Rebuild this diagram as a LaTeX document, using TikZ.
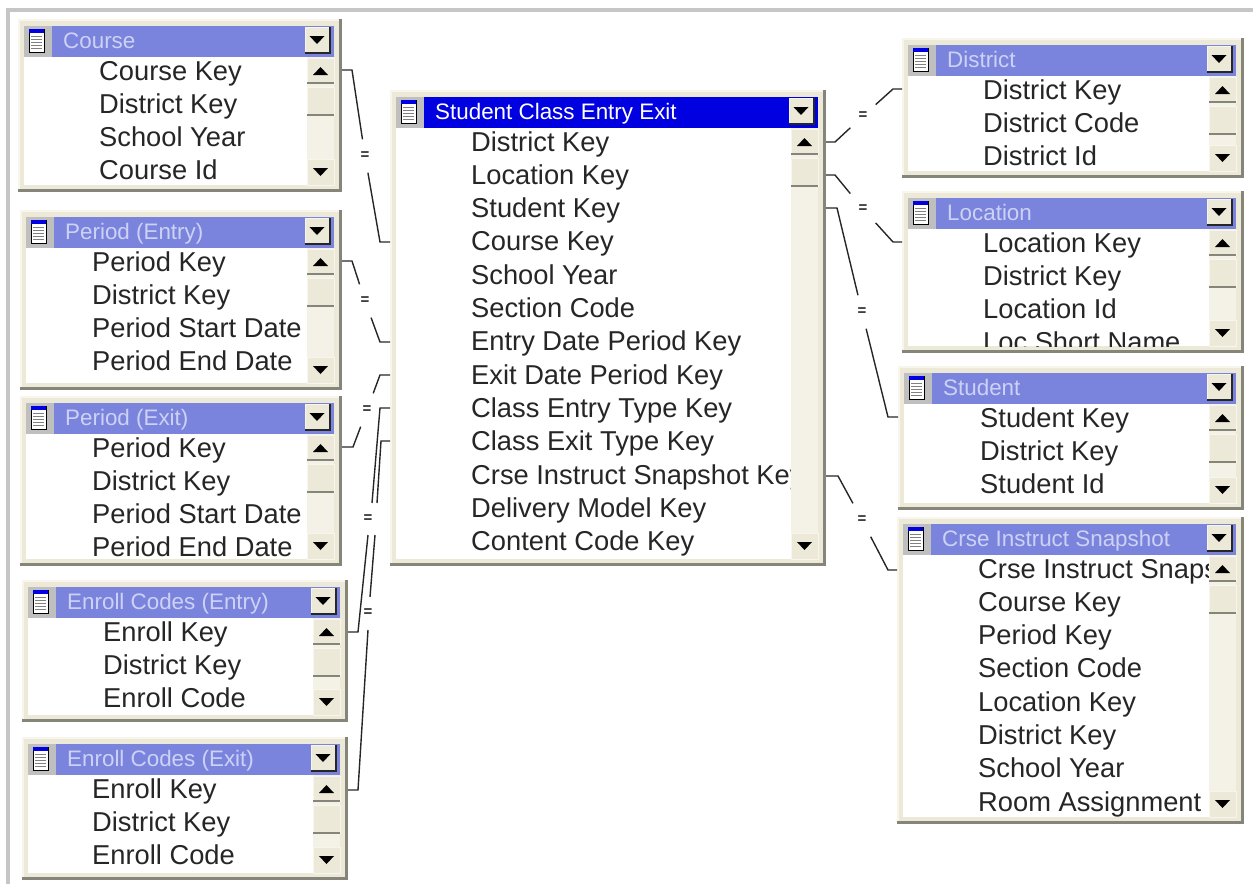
\documentclass[tikz,border=0pt]{standalone}
\usepackage{fontspec}
\setmainfont{Liberation Sans}
\usetikzlibrary{calc,positioning}
\definecolor{erFace}{HTML}{ECE9D8}
\definecolor{erLight}{HTML}{F8F6EC}
\definecolor{erDark}{HTML}{85857A}
\definecolor{erGrip}{HTML}{F4F2E6}
\definecolor{erTitle}{HTML}{7B84DC}
\definecolor{erTitleText}{HTML}{CDD2F5}
\definecolor{erActive}{HTML}{0000E0}
\definecolor{erInk}{HTML}{262626}
\tikzset{
  winframe/.style={fill=erFace, anchor=north west, inner sep=0pt},
  rowtext/.style={anchor=base west, inner sep=0pt, text=erInk, font=\fontsize{27.3}{30}\selectfont},
  titletext/.style={anchor=base west, inner sep=0pt, font=\fontsize{22.4}{26}\selectfont},
  eqlabel/.style={inner sep=0pt, minimum width=25pt, minimum height=33pt, font=\bfseries\fontsize{15}{15}\selectfont, text=erInk},
  link/.style={draw=erInk, line width=1.4pt},
  btn/.style={fill=erFace, draw=erLight, line width=0.8pt},
  btnedge/.style={draw=erDark, line width=1.4pt}
}
% one table window: name, x0, y0, x1, y1, title colour, row x, title ink, title
\newcommand{\erwin}[9]{%
  \pgfmathsetmacro{\tb}{#3+38}
  \pgfmathsetmacro{\sx}{#4-35}
  \pgfmathsetmacro{\sr}{#4-8}
  \pgfmathsetmacro{\bb}{#5-7}
  \node[winframe, minimum width={(#4-#2)*1pt}, minimum height={(#5-#3)*1pt}] (#1) at (#2,#3) {};
  \draw[erLight, line width=2pt] (#2+1,#5-1) -- (#2+1,#3+1) -- (#4-1,#3+1);
  \draw[erDark, line width=3pt] (#4-1.5,#3) -- (#4-1.5,#5-1.5) -- (#2,#5-1.5);
  \fill[white] (#2+6,\tb) rectangle (\sr,\bb);
  \begin{scope}
    \clip (#2+6,\tb) rectangle (\sx,\bb);
    \foreach \rowname [count=\rowi] in \erRows {
      \node[rowtext] (#1-\rowi) at (#7,{\tb+23+33.3*(\rowi-1)}) {\rowname};
    }
  \end{scope}
  % title bar
  \fill[#6] (#2+6,#3+7) rectangle (\sr,\tb);
  \fill[gray!50] (#2+6,#3+7) rectangle (#2+34,\tb);
  \filldraw[fill=white, draw=black, line width=1pt] (#2+11,#3+10) rectangle (#2+26,#3+33);
  \fill[erActive] (#2+11,#3+10) rectangle (#2+26,#3+14);
  \foreach \iy in {17,20,23,26,29}
    \draw[gray, line width=0.9pt] (#2+13,#3+\iy) -- (#2+24,#3+\iy);
  \node[titletext, text=#8] (#1-title) at (#2+45,#3+29) {#9};
  \fill[erFace] (\sr-29,#3+8) rectangle (\sr-4,#3+34);
  \draw[erLight, line width=1pt] (\sr-29,#3+34) -- (\sr-29,#3+8) -- (\sr-4,#3+8);
  \draw[black!85, line width=2pt] (\sr-4,#3+8) -- (\sr-4,#3+34) -- (\sr-29,#3+34);
  \fill[black] (\sr-24.5,#3+17) -- (\sr-9.5,#3+17) -- (\sr-17,#3+25) -- cycle;
  % scroll bar
  \fill[erGrip] (\sx,\tb) rectangle (\sr,\bb);
  \filldraw[btn] (\sx,\tb+1) rectangle (\sr,\tb+26);
  \draw[btnedge] (\sx,\tb+26) -- (\sr,\tb+26);
  \fill[black] (\sx+6,\tb+18) -- (\sx+21,\tb+18) -- (\sx+13.5,\tb+10) -- cycle;
  \filldraw[btn] (\sx,\tb+30) rectangle (\sr,\tb+58);
  \draw[btnedge] (\sx,\tb+58) -- (\sr,\tb+58);
  \filldraw[btn] (\sx,\bb-26) rectangle (\sr,\bb);
  \fill[black] (\sx+6,\bb-17) -- (\sx+21,\bb-17) -- (\sx+13.5,\bb-9) -- cycle;
}
\begin{document}
\begin{tikzpicture}[x=1pt, y=-1pt]
  \useasboundingbox (0,0) rectangle (1253,884);
  \draw[gray!45, line width=4.5pt] (8,884) -- (8,10) -- (1253,10);

  % left column
  \def\erRows{Course Key,District Key,School Year,Course Id}
  \erwin{course}{18}{19}{342}{192}{erTitle}{99}{erTitleText}{Course}
  \def\erRows{Period Key,District Key,Period Start Date,Period End Date}
  \erwin{periodEntry}{20}{210}{342}{390}{erTitle}{92}{erTitleText}{Period (Entry)}
  \erwin{periodExit}{20}{396}{342}{566}{erTitle}{92}{erTitleText}{Period (Exit)}
  \def\erRows{Enroll Key,District Key,Enroll Code}
  \erwin{enrollEntry}{22}{580}{348}{722}{erTitle}{103}{erTitleText}{Enroll Codes (Entry)}
  \erwin{enrollExit}{22}{737}{348}{880}{erTitle}{92}{erTitleText}{Enroll Codes (Exit)}

  % centre
  \def\erRows{District Key,Location Key,Student Key,Course Key,School Year,Section Code,Entry Date Period Key,Exit Date Period Key,Class Entry Type Key,Class Exit Type Key,Crse Instruct Snapshot Key,Delivery Model Key,Content Code Key}
  \erwin{classEntry}{390}{90}{826}{566}{erActive}{471}{white}{Student Class Entry Exit}

  % right column
  \def\erRows{District Key,District Code,District Id}
  \erwin{district}{902}{38}{1244}{178}{erTitle}{983}{erTitleText}{District}
  \def\erRows{Location Key,District Key,Location Id,Loc Short Name}
  \erwin{location}{902}{191}{1244}{353}{erTitle}{983}{erTitleText}{Location}
  \def\erRows{Student Key,District Key,Student Id}
  \erwin{student}{898}{366}{1244}{510}{erTitle}{980}{erTitleText}{Student}
  \def\erRows{Crse Instruct Snapshot Key,Course Key,Period Key,Section Code,Location Key,District Key,School Year,Room Assignment}
  \erwin{snapshot}{897}{517}{1244}{824}{erTitle}{978}{erTitleText}{Crse Instruct Snapshot}

  % join labels
  \node[eqlabel] (eqCourse) at (365,156) {=};
  \node[eqlabel] (eqPeriodEntry) at (365,301) {=};
  \node[eqlabel] (eqPeriodExit) at (367,410) {=};
  \node[eqlabel] (eqEnrollEntry) at (368,519) {=};
  \node[eqlabel] (eqEnrollExit) at (368,613) {=};
  \node[eqlabel] (eqDistrict) at (863,116) {=};
  \node[eqlabel] (eqLocation) at (863,209) {=};
  \node[eqlabel] (eqStudent) at (862,312) {=};
  \node[eqlabel] (eqSnapshot) at (862,520) {=};

  % connector ends on the window edges
  \coordinate (courseOut) at (342,70);
  \coordinate (periodEntryOut) at (342,261);
  \coordinate (periodExitOut) at (342,447);
  \coordinate (enrollEntryOut) at (348,632);
  \coordinate (enrollExitOut) at (348,790);
  \coordinate (mainCourse) at (390,242);
  \coordinate (mainPeriodEntry) at (390,342);
  \coordinate (mainPeriodExit) at (390,375);
  \coordinate (mainEnrollEntry) at (390,408);
  \coordinate (mainEnrollExit) at (390,441);
  \coordinate (mainDistrict) at (826,142);
  \coordinate (mainLocation) at (826,175);
  \coordinate (mainStudent) at (826,208);
  \coordinate (mainSnapshot) at (826,476);
  \coordinate (districtIn) at (902,89);
  \coordinate (locationIn) at (902,242);
  \coordinate (studentIn) at (898,417);
  \coordinate (snapshotIn) at (897,570);

  \draw[link] (courseOut) -- (352,70) -- (eqCourse) (eqCourse) -- (380,242) -- (mainCourse);
  \draw[link] (periodEntryOut) -- (352,261) -- (eqPeriodEntry) (eqPeriodEntry) -- (380,342) -- (mainPeriodEntry);
  \draw[link] (periodExitOut) -- (353,447) -- (eqPeriodExit) (eqPeriodExit) -- (380,375) -- (mainPeriodExit);
  \draw[link] (enrollEntryOut) -- (358,632) -- (368,535) (372,503) -- (380,408) -- (mainEnrollEntry);
  \draw[link] (enrollExitOut) -- (358,790) -- (368,630) (370,597) -- (375,535) (377,503) -- (381,441) -- (mainEnrollExit);
  \draw[link] (mainDistrict) -- (835,142) -- (eqDistrict) (eqDistrict) -- (893,89) -- (districtIn);
  \draw[link] (mainLocation) -- (835,175) -- (eqLocation) (eqLocation) -- (893,242) -- (locationIn);
  \draw[link] (mainStudent) -- (837,208) -- (eqStudent) (eqStudent) -- (888,417) -- (studentIn);
  \draw[link] (mainSnapshot) -- (838,476) -- (eqSnapshot) (eqSnapshot) -- (888,570) -- (snapshotIn);
\end{tikzpicture}
\end{document}
